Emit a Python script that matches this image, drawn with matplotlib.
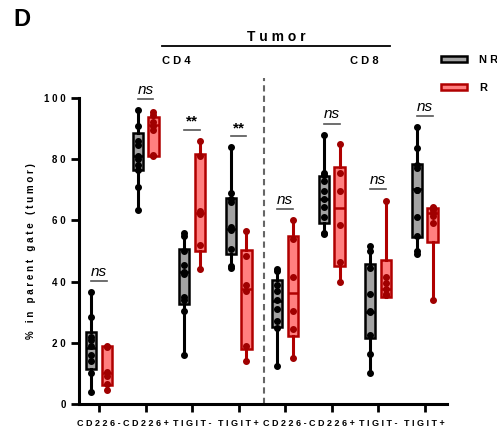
import numpy as np
import matplotlib.pyplot as plt
from matplotlib.patches import Patch

plt.rcParams['font.family'] = ['Liberation Sans', 'DejaVu Sans']

categories = ['CD226-', 'CD226+', 'TIGIT-', 'TIGIT+', 'CD226-', 'CD226+', 'TIGIT-', 'TIGIT+']

# individual points, NR and R for each category
nr_points = [
    [36.5, 28.5, 22, 21, 19, 16, 14, 10, 4],
    [96, 91, 86, 84.5, 81, 80, 78, 76.5, 71, 63.5],
    [56, 55, 50, 45.5, 43, 42.5, 35, 34, 30.5, 16],
    [84, 69, 67, 66, 58, 57, 50.5, 45, 44.5],
    [44, 43.5, 39, 37, 34, 31, 27, 25, 12.5],
    [88, 75.5, 75, 73, 69.5, 67, 64.5, 61, 56, 55.5],
    [51.5, 50, 44.5, 36, 30.5, 30, 22.5, 16.5, 10],
    [90.5, 83.5, 78, 77, 70, 70, 61, 55, 50, 49],
]
r_points = [
    [19, 18.5, 10.5, 9, 6.5, 4.5],
    [95.5, 94.5, 92, 91, 89.5, 81.5, 81],
    [86, 81, 63, 62, 52, 44],
    [56.5, 48.5, 39, 37, 19, 14],
    [60, 54, 41.5, 30.5, 24.5, 15],
    [85, 75.5, 69.5, 58.5, 46.5, 40],
    [66.5, 41.5, 39.5, 37.5, 36, 35.5],
    [64.5, 64, 63.5, 62.5, 61.5, 59, 34],
]

# box statistics (q1, median, q3)
nr_q1 = [11.5, 76.5, 32.7, 49.1, 25.3, 59.2, 21.5, 54.5]
nr_med = [18.4, 81.1, 43.0, 57.2, 33.7, 66.9, 30.0, 70.2]
nr_q3 = [23.6, 88.4, 50.6, 67.2, 40.5, 74.5, 45.6, 78.4]
r_q1 = [6.2, 81.0, 50.0, 18.1, 22.3, 45.2, 35.1, 52.9]
r_med = [10.2, 91.3, 62.3, 37.5, 36.2, 64.2, 37.5, 62.5]
r_q3 = [19.0, 93.7, 81.7, 50.3, 55.0, 77.6, 47.1, 64.2]

sig = ['ns', 'ns', '**', '**', 'ns', 'ns', 'ns', 'ns']

nr_face, nr_edge = '#a3a3a3', 'black'
r_face, r_edge = '#ff7f7f', '#b00000'
r_dot = '#a00000'

fig = plt.figure(figsize=(4.97, 4.34), dpi=100)
ax = fig.add_axes([79 / 497, 30 / 434, 368 / 497, 306 / 434])

x = np.arange(len(categories))
off = 0.17
bw = 0.22


def stats(pts, q1, med, q3):
    out = []
    for p, a, m, b in zip(pts, q1, med, q3):
        out.append(dict(whislo=min(p), q1=a, med=m, q3=b, whishi=max(p), fliers=[]))
    return out


for pts, q1, med, q3, sh, fc, ec, dc in [
        (nr_points, nr_q1, nr_med, nr_q3, -off, nr_face, nr_edge, 'black'),
        (r_points, r_q1, r_med, r_q3, off, r_face, r_edge, r_dot)]:
    ax.bxp(stats(pts, q1, med, q3), positions=x + sh, widths=bw,
           patch_artist=True, showcaps=False,
           boxprops=dict(facecolor=fc, edgecolor=ec, linewidth=1.8),
           whiskerprops=dict(color=ec, linewidth=2.2),
           medianprops=dict(color=ec, linewidth=1.8))
    for i, p in enumerate(pts):
        ax.scatter(np.full(len(p), x[i] + sh), p, s=16, color=dc, zorder=4)

for i in range(len(categories)):
    top = max(max(nr_points[i]), max(r_points[i])) + 3.6
    ax.plot([x[i] - 0.17, x[i] + 0.17], [top, top], color='#555555', lw=1.2, clip_on=False)
    if sig[i] == 'ns':
        ax.text(x[i], top + 0.8, 'ns', style='italic', ha='center', va='bottom', fontsize=11)
    else:
        ax.text(x[i], top + 0.3, sig[i], ha='center', va='bottom', fontsize=11, fontweight='bold')

ax.axvline(3.55, ymin=0, ymax=1.065, color='#666666', ls=(0, (3, 2)), lw=1.5, clip_on=False)

ax.set_xlim(-0.43, 7.48)
ax.set_ylim(0, 100)
ax.set_xticks(x)
ax.set_xticklabels([' '.join(c) for c in categories], fontsize=6.5, fontweight='bold')
ax.set_yticks([0, 20, 40, 60, 80, 100])
ax.set_yticklabels([' '.join(str(v)) for v in [0, 20, 40, 60, 80, 100]], fontsize=7, fontweight='bold')
ax.tick_params(width=2, length=6)
ax.tick_params(axis='x', pad=5)
for s in ['top', 'right']:
    ax.spines[s].set_visible(False)
for s in ['left', 'bottom']:
    ax.spines[s].set_linewidth(2.2)
ax.set_ylabel(' '.join('% in parent gate (tumor)'), fontsize=7, fontweight='bold', labelpad=6)

fig.text(13 / 497, 1 - 20 / 434, 'D', fontsize=17, fontweight='bold', va='center')
fig.text(276 / 497, 1 - 37 / 434, ' '.join('Tumor'), fontsize=10, fontweight='bold', ha='center', va='center')
fig.add_artist(plt.Line2D([162 / 497, 390 / 497], [1 - 46 / 434, 1 - 46 / 434], color='black', lw=1.3))
fig.text(162 / 497, 1 - 61 / 434, ' '.join('CD4'), fontsize=8, fontweight='bold', va='center')
fig.text(350 / 497, 1 - 61 / 434, ' '.join('CD8'), fontsize=8, fontweight='bold', va='center')

handles = [Patch(facecolor=nr_face, edgecolor=nr_edge, linewidth=1.8),
           Patch(facecolor=r_face, edgecolor=r_edge, linewidth=1.8)]
fig.legend(handles, [' '.join('NR'), 'R'], loc='upper left', bbox_to_anchor=(441 / 497, 1 - 55 / 434),
           frameon=False, handlelength=2.3, handleheight=0.45, labelspacing=1.6, handletextpad=1.1,
           borderpad=0, borderaxespad=0, prop=dict(size=8, weight='bold'))

fig.savefig('out.png', dpi=100)
